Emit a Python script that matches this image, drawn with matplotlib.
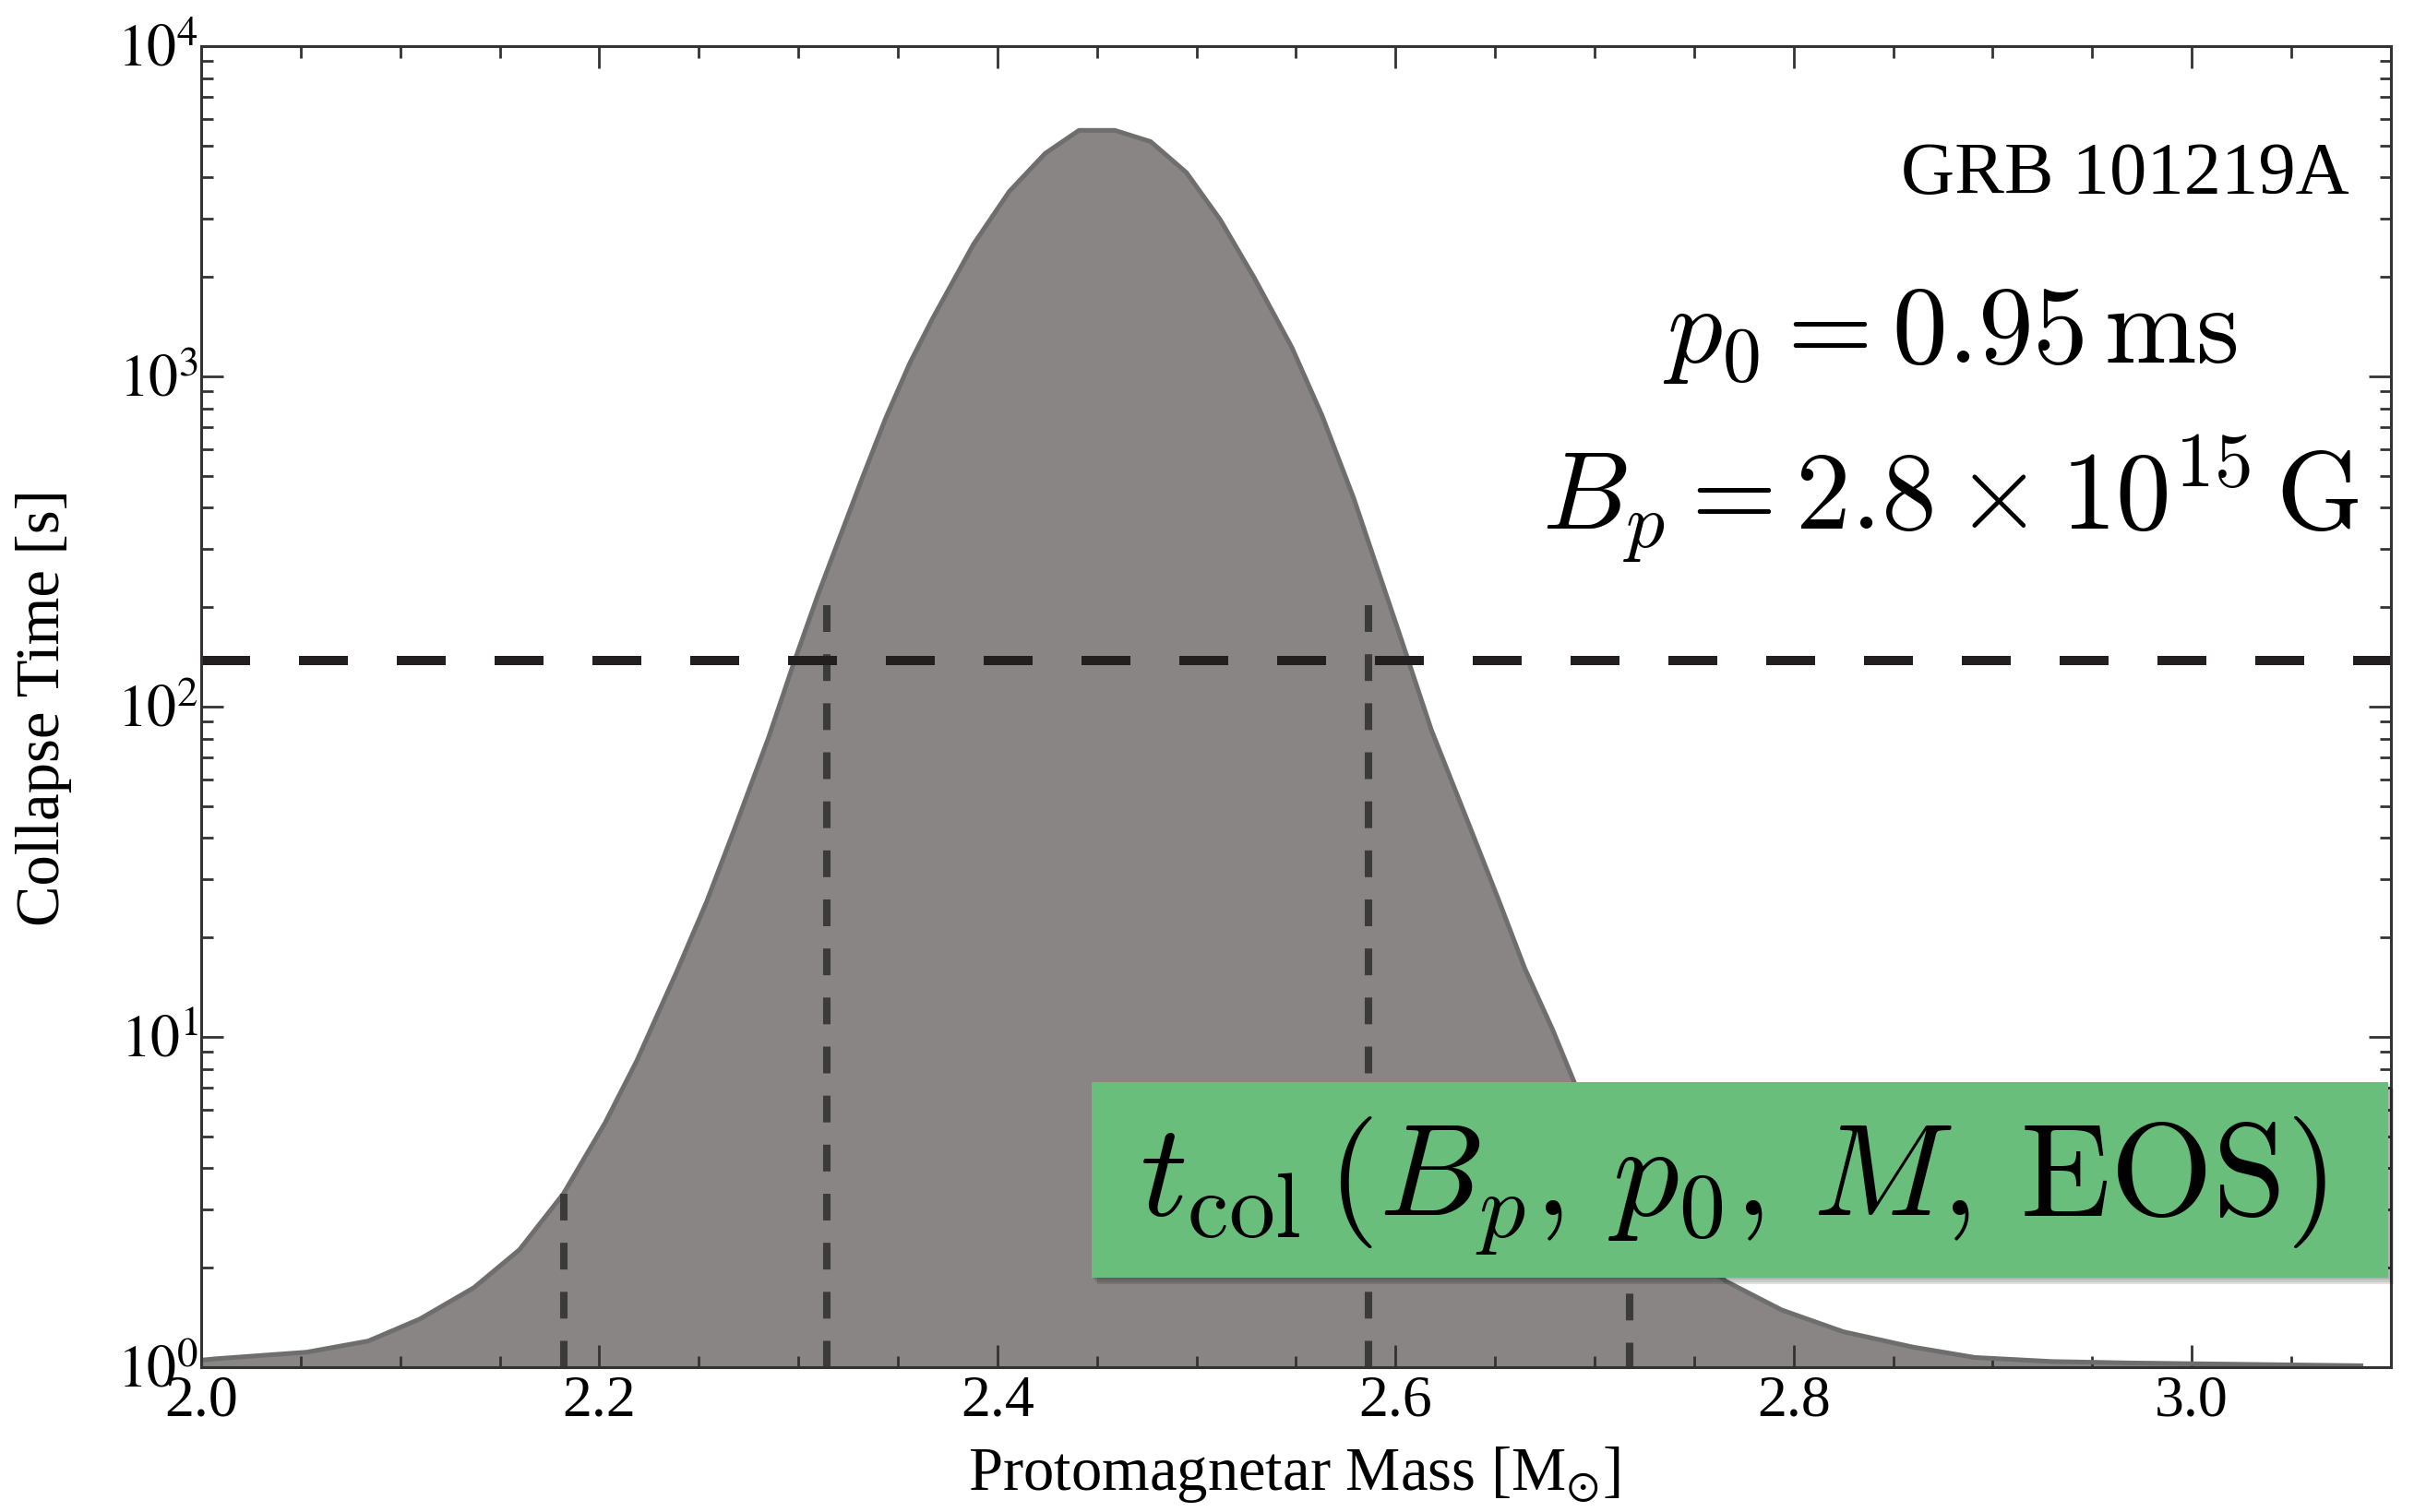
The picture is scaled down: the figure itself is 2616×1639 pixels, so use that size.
import matplotlib
matplotlib.use("Agg")
import matplotlib.pyplot as plt
from matplotlib.patches import Rectangle
from matplotlib.ticker import MultipleLocator, LogLocator, NullFormatter

plt.rcParams['font.family'] = ['Liberation Serif', 'DejaVu Serif']

# collapse time vs protomagnetar mass (GRB 101219A, p0 = 0.95 ms)
mass = [2.000, 2.007, 2.053, 2.084, 2.110, 2.137, 2.160, 2.182, 2.203, 2.219,
        2.239, 2.254, 2.268, 2.285, 2.298, 2.310, 2.320, 2.332, 2.344, 2.356,
        2.367, 2.388, 2.406, 2.424, 2.441, 2.459, 2.477, 2.495, 2.512, 2.529,
        2.548, 2.563, 2.579, 2.591, 2.602, 2.618, 2.638, 2.652, 2.665, 2.679,
        2.690, 2.720, 2.745, 2.766, 2.794, 2.825, 2.860, 2.891, 2.930, 2.968,
        3.085]
t_col = [1.05, 1.06, 1.11, 1.20, 1.40, 1.74, 2.27, 3.35, 5.5, 8.5,
         15.8, 25.7, 42.7, 80.4, 137, 219, 316, 490, 750, 1096,
         1479, 2512, 3631, 4732, 5559, 5559, 5140, 4140, 2979, 1991,
         1222, 764, 428, 261, 166, 85.1, 42.3, 25.8, 16.1, 10.5,
         7.24, 3.31, 2.29, 1.82, 1.49, 1.28, 1.15, 1.07, 1.04, 1.03,
         1.01]

# observed plateau end and mass bounds
t_obs = 138
bound_mass = [2.182, 2.3145, 2.5865, 2.7176]
bound_top = [3.35, 203, 203, 3.3]

xtick_vals = [2.0, 2.2, 2.4, 2.6, 2.8, 3.0]
xtick_labels = ['2.0', '2.2', '2.4', '2.6', '2.8', '3.0']
ytick_vals = [1, 10, 100, 1000, 10000]
ytick_labels = [r'$10^0$', r'$10^1$', r'$10^2$', r'$10^3$', r'$10^4$']

fig = plt.figure(figsize=(13.08, 8.195), dpi=200)
ax = fig.add_axes([0.0833, 0.0958, 0.9071, 0.8737])

ax.fill_between(mass, 0.5, t_col, color='#898585', lw=0, zorder=1)
ax.plot(mass, t_col, color='#6e6e6e', lw=1.8, zorder=2, solid_joinstyle='round')

for x, top in zip(bound_mass, bound_top):
    ax.plot([x, x], [top, 1], color='#3b3b3b', lw=2.9, dashes=(3.6, 3.0), zorder=3)

ax.axhline(t_obs, color='#231f20', lw=3.6, dashes=(5.3, 5.3), zorder=4)

ax.set_yscale('log')
ax.set_xlim(2.0, 3.1)
ax.set_ylim(1, 1e4)

ax.set_xticks(xtick_vals)
ax.set_xticklabels(xtick_labels, fontsize=23)
ax.xaxis.set_minor_locator(MultipleLocator(0.05))
ax.set_yticks(ytick_vals)
ax.set_yticklabels(ytick_labels, fontsize=23, math_fontfamily='stix')
ax.yaxis.set_minor_locator(LogLocator(base=10, subs=range(2, 10), numticks=20))
ax.yaxis.set_minor_formatter(NullFormatter())

ax.tick_params(which='both', direction='in', top=True, right=True,
               color='#333333', width=1.0)
ax.tick_params(which='major', length=8.5)
ax.tick_params(which='minor', length=4.5)
ax.tick_params(axis='x', pad=3)
ax.tick_params(axis='y', pad=1)
for sp in ax.spines.values():
    sp.set_linewidth(1.1)
    sp.set_color('#333333')
    sp.set_zorder(5)

fig.text(0.018, 0.532, 'Collapse Time [s]', rotation=90, ha='center',
         va='center', fontsize=24)
fig.text(0.536, 0.0146, r'Protomagnetar Mass [M$_{\odot}$]', ha='center',
         va='baseline', fontsize=24, math_fontfamily='stix')

fig.text(0.9733, 0.8716, 'GRB 101219A', ha='right', va='baseline', fontsize=29)
fig.text(0.808, 0.7602, r'$p_0 = 0.95\,\mathrm{ms}$', ha='center',
         va='baseline', fontsize=43, math_fontfamily='cm')
fig.text(0.808, 0.6501, r'$B_p = 2.8 \times 10^{15}\,\mathrm{G}$', ha='center',
         va='baseline', fontsize=43, math_fontfamily='cm')

# green label box with a soft drop shadow
bx0, by0, bw, bh = 0.4522, 0.1550, 0.5371, 0.1293
for k, a in enumerate([0.10, 0.10, 0.12]):
    d = 0.0012 * (k + 1)
    fig.patches.append(Rectangle((bx0 + d * 0.6, by0 - d * 1.2), bw, bh,
                                 transform=fig.transFigure, facecolor='black',
                                 alpha=a, lw=0, zorder=6))
fig.patches.append(Rectangle((bx0, by0), bw, bh, transform=fig.transFigure,
                             facecolor='#6abe7b', lw=0, zorder=7))
fig.text(0.4721, 0.1967, r'$t_{\mathrm{col}}\,(B_p,\, p_0,\, M,\, \mathrm{EOS})$',
         ha='left', va='baseline', fontsize=51.5, math_fontfamily='cm', zorder=8)

fig.savefig('out.png', dpi=200)
